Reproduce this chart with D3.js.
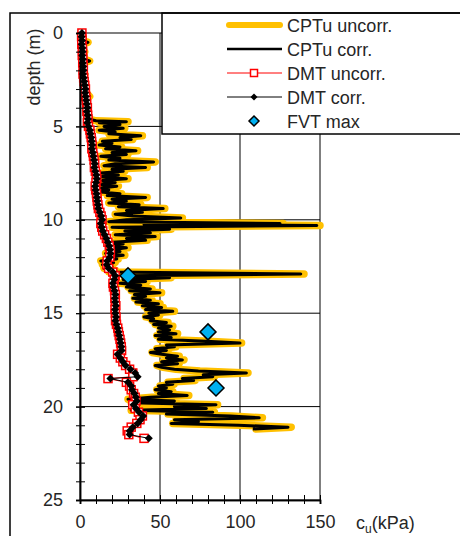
<!DOCTYPE html>
<html>
<head>
<meta charset="utf-8">
<script src="https://cdn.jsdelivr.net/npm/d3@7"></script>
<style>
  html, body { margin: 0; padding: 0; background: #fff; }
  svg { display: block; font-family: "Liberation Sans", Arial, sans-serif; }
</style>
</head>
<body>
<svg id="chart" width="460" height="536"></svg>
<script>
// Undrained shear strength profiles vs depth

// CPTu profile (depth in m, cu in kPa)
const cptuDepth = [0,0.2,0.4,0.5,0.6,0.8,1.0,1.2,1.4,1.5,1.6,1.8,2.0,2.2,2.4,2.6,2.8,3.0,3.2,3.4,3.5,3.7,3.9,4.1,4.3,4.5,4.6,
  4.7,4.75,4.8,4.9,5.0,5.1,5.2,5.3,5.4,5.5,5.6,5.7,5.8,5.9,6.0,6.1,6.2,6.3,6.4,6.5,6.6,6.7,6.8,6.9,7.0,7.1,7.2,7.3,7.4,7.5,7.6,7.7,7.8,7.9,
  8.0,8.1,8.2,8.3,8.4,8.5,8.6,8.7,8.8,8.9,9.0,9.1,9.2,9.3,9.4,9.5,9.6,9.7,9.8,9.9,10.0,10.1,10.2,10.25,10.3,10.4,10.5,10.6,10.7,10.8,10.9,
  11.0,11.1,11.2,11.3,11.4,11.5,11.6,11.7,11.8,11.9,12.0,12.1,12.2,12.3,12.4,12.5,12.6,12.7,12.8,12.9,13.0,13.1,13.2,13.3,13.4,13.5,13.6,13.7,13.8,13.9,
  14.0,14.1,14.2,14.3,14.4,14.5,14.6,14.7,14.8,14.9,15.0,15.1,15.2,15.3,15.4,15.5,15.6,15.7,15.8,15.9,16.0,16.1,16.2,16.3,16.4,16.5,16.6,16.7,16.8,16.9,
  17.0,17.1,17.2,17.3,17.4,17.5,17.6,17.7,17.8,17.9,18.0,18.1,18.2,18.3,18.4,18.5,18.6,18.7,18.8,18.9,19.0,19.1,19.2,19.3,19.4,19.5,19.6,19.7,19.8,19.9,
  20.0,20.1,20.2,20.3,20.4,20.5,20.6,20.7,20.8,20.9,21.0,21.1,21.2];
const cptuUncorr = [1,2,1.5,5,2,1.5,3,2,2.5,6,2,2.5,2,3,2.5,3,3.5,3,4,6,3.5,4,4.5,4,5,4.5,5,
  10,30,12,26,15,28,12,22,18,39,25,33,14,20,12,26,16,36,20,30,13,26,18,47,22,15,42,20,28,13,24,12,30,14,
  22,12,24,13,18,11,26,17,42,20,30,18,38,24,53,30,40,22,34,64,30,18,127,40,150,20,57,28,45,22,48,
  30,42,20,28,18,30,20,26,16,28,17,24,13,22,14,20,15,22,18,140,30,57,28,42,25,39,30,45,32,51,
  35,42,34,45,36,50,40,52,42,59,44,50,41,47,45,55,47,58,50,57,50,61,48,58,50,80,101,55,60,48,
  55,45,52,62,55,65,52,62,48,52,60,75,105,78,84,65,72,55,59,50,55,48,58,50,68,45,30,60,32,86,
  60,80,32,84,55,95,114,60,75,58,100,132,110];
const cptuCorr = [1,2,1.5,5,2,1.5,3,2,2.5,6,2,2.5,2,3,2.5,3,3.5,3,4,6,3.5,4,4.5,4,5,4.5,5,
  10,29,12,25,15,27,12,22,18,38,25,32,14,20,12,25,16,35,20,29,13,25,18,46,22,15,41,20,27,13,24,12,29,14,
  22,12,23,13,18,11,25,17,41,20,29,18,37,24,52,29,39,22,33,63,29,18,125,40,148,20,56,28,44,22,47,
  29,41,20,27,18,29,20,25,16,27,17,23,13,21,14,20,15,21,18,138,29,56,27,41,25,38,29,44,31,50,
  34,41,33,44,35,49,39,51,41,58,43,49,40,46,44,54,46,57,49,56,49,60,47,57,49,79,100,54,59,47,
  54,44,51,61,54,64,51,61,47,51,59,74,104,77,83,64,71,54,58,49,54,47,57,49,67,44,30,59,32,85,
  59,79,32,83,54,94,112,59,74,57,99,130,108];

// DMT profile (depth in m, cu in kPa)
const dmtDepth = [0.0,0.2,0.4,0.6,0.8,1.0,1.2,1.4,1.6,1.8,2.0,2.2,2.4,2.6,2.8,3.0,3.2,3.4,3.6,3.8,4.0,4.2,4.4,4.6,4.8,
  5.0,5.2,5.4,5.6,5.8,6.0,6.2,6.4,6.6,6.8,7.0,7.2,7.4,7.6,7.8,8.0,8.2,8.4,8.6,8.8,9.0,9.2,9.4,9.6,9.8,
  10.0,10.2,10.4,10.6,10.8,11.0,11.2,11.4,11.6,11.8,12.0,12.2,12.4,12.6,12.8,13.0,13.2,13.4,13.6,13.8,
  14.0,14.2,14.4,14.6,14.8,15.0,15.2,15.4,15.6,15.8,16.0,16.2,16.4,16.6,16.8,17.0,17.2,17.4,17.6,17.8,
  18.0,18.2,18.4,18.5,18.7,18.9,19.1,19.3,19.5,19.7,19.9,20.1,20.3,20.5,20.7,20.9,21.1,21.3,21.5,21.7];
const dmtUncorr = [1.2,1.0,1.3,1.1,1.5,1.6,1.4,1.8,1.7,2.0,2.1,1.9,2.3,2.6,3.0,3.4,3.2,3.6,3.9,4.2,4.6,4.3,4.8,5.0,4.6,
  5.3,6.2,6.5,7.0,7.3,7.6,7.4,8.0,8.4,8.8,9.2,9.0,9.6,10.2,10.5,10.0,9.5,9.8,10.3,10.6,10.8,11.2,11.5,12.4,13.2,
  13.8,13.0,13.6,14.2,15.4,16.5,17.4,18.3,18.8,19.0,18.6,17.0,16.8,17.9,20.5,22.0,21.4,20.6,20.9,21.6,
  22.1,21.8,22.0,22.4,21.9,22.1,22.5,22.2,22.8,23.6,24.0,24.5,25.0,25.4,25.8,26.0,23.5,25.2,26.8,28.5,
  31.0,33.0,33.0,17.5,29.0,31.0,32.0,33.5,34.5,35.0,33.0,34.5,36.5,39.0,37.5,35.5,32.0,29.5,30.5,40.0];
const dmtCorr = [1.2,1.0,1.3,1.1,1.5,1.6,1.4,1.8,1.7,2.0,2.1,1.9,2.3,2.6,3.0,3.4,3.2,3.6,3.9,4.2,4.6,4.3,4.8,5.0,4.6,
  5.3,6.2,6.5,7.0,7.3,7.6,7.4,8.0,8.4,8.8,9.2,9.0,9.6,10.2,10.5,10.0,9.5,9.8,10.3,10.6,10.8,11.2,11.5,12.4,13.2,
  13.8,13.0,13.6,14.2,15.4,16.5,17.4,18.3,18.8,19.0,18.6,17.0,16.8,17.9,20.5,22.0,21.4,20.6,20.9,21.6,
  22.1,21.8,22.0,22.4,21.9,22.1,22.5,22.2,22.8,23.6,24.0,24.5,25.0,25.4,25.8,26.0,23.5,25.2,26.8,28.5,
  31.5,34.5,36.0,19.0,30.0,32.0,32.5,34.0,35.0,35.5,33.5,35.0,37.0,39.5,38.0,36.0,33.0,31.0,31.0,43.0];

// Field vane tests, maximum values
const fvtDepth = [13.0, 16.0, 19.0];
const fvtMax = [30, 80, 85];

// Axis ticks
const xTickLabels = [0, 50, 100, 150];
const yTickLabels = [0, 5, 10, 15, 20, 25];

const legendItems = ["CPTu uncorr.", "CPTu corr.", "DMT uncorr.", "DMT corr.", "FVT max"];

const ORANGE = "#FFC000", RED = "#FF0000", BLUE = "#00B0F0", TEXT = "#262626";

const svg = d3.select("#chart");
svg.append("rect").attr("width", 460).attr("height", 536).attr("fill", "#fff");

const x = d3.scaleLinear().domain([0, 150]).range([80, 320]);
const y = d3.scaleLinear().domain([0, 25]).range([33, 500]);

// gridlines
const grid = svg.append("g").attr("stroke", "#000").attr("stroke-width", 1);
grid.selectAll("line.h").data([5, 10, 15, 20]).join("line")
  .attr("x1", x(0)).attr("x2", x(150)).attr("y1", d => y(d)).attr("y2", d => y(d));
grid.selectAll("line.v").data([50, 100]).join("line")
  .attr("x1", d => x(d)).attr("x2", d => x(d)).attr("y1", y(0)).attr("y2", y(25));
// plot area border
svg.append("rect").attr("x", x(0)).attr("y", y(0))
  .attr("width", x(150) - x(0)).attr("height", y(25) - y(0))
  .attr("fill", "none").attr("stroke", "#000").attr("stroke-width", 1);

const pts = (ds, vs) => ds.map((d, i) => [vs[i], d]);
const line = d3.line().x(p => x(p[0])).y(p => y(p[1]));

// CPTu
svg.append("path").datum(pts(cptuDepth, cptuUncorr)).attr("d", line)
  .attr("fill", "none").attr("stroke", ORANGE).attr("stroke-width", 7.5)
  .attr("stroke-linejoin", "round").attr("stroke-linecap", "round");
svg.append("path").datum(pts(cptuDepth, cptuCorr)).attr("d", line)
  .attr("fill", "none").attr("stroke", "#000").attr("stroke-width", 3)
  .attr("stroke-linejoin", "round");

// DMT uncorrected
const dmtU = pts(dmtDepth, dmtUncorr);
svg.append("path").datum(dmtU).attr("d", line)
  .attr("fill", "none").attr("stroke", RED).attr("stroke-width", 1);
svg.append("g").selectAll("rect").data(dmtU).join("rect")
  .attr("x", p => x(p[0]) - 4).attr("y", p => y(p[1]) - 4)
  .attr("width", 8).attr("height", 8)
  .attr("fill", "#fff").attr("stroke", RED).attr("stroke-width", 1.5);

// DMT corrected
const dmtC = pts(dmtDepth, dmtCorr);
svg.append("path").datum(dmtC).attr("d", line)
  .attr("fill", "none").attr("stroke", "#000").attr("stroke-width", 1);
const diamond = r => `M0,${-r}L${r},0L0,${r}L${-r},0Z`;
svg.append("g").selectAll("path").data(dmtC).join("path")
  .attr("transform", p => `translate(${x(p[0])},${y(p[1])})`)
  .attr("d", diamond(4)).attr("fill", "#000");

// FVT
svg.append("g").selectAll("path").data(fvtDepth.map((d, i) => [fvtMax[i], d])).join("path")
  .attr("transform", p => `translate(${x(p[0])},${y(p[1])})`)
  .attr("d", diamond(8)).attr("fill", BLUE).attr("stroke", "#000").attr("stroke-width", 1.5);

// axes
const yAxisMinor = d3.axisLeft(y).tickValues(d3.range(0, 26, 1)).tickFormat("").tickSize(4);
const gyMinor = svg.append("g").attr("transform", `translate(${x(0)},0)`).call(yAxisMinor);
gyMinor.selectAll(".tick line").attr("x2", -4).attr("x1", 5);
const gy = svg.append("g").attr("transform", `translate(${x(0)},0)`)
  .call(d3.axisLeft(y).tickValues(yTickLabels).tickFormat(d3.format("d")).tickSize(4).tickPadding(13));
gy.selectAll(".tick line").attr("x1", 5);

const xAxisMinor = d3.axisBottom(x).tickValues(d3.range(0, 151, 10)).tickFormat("").tickSize(4);
const gxMinor = svg.append("g").attr("transform", `translate(0,${y(25)})`).call(xAxisMinor);
gxMinor.selectAll(".tick line").attr("y1", -5);
const gx = svg.append("g").attr("transform", `translate(0,${y(25)})`)
  .call(d3.axisBottom(x).tickValues(xTickLabels).tickFormat(d3.format("d")).tickSize(4).tickPadding(11));
gx.selectAll(".tick line").attr("y1", -5);

[gyMinor, gy, gxMinor, gx].forEach(g => {
  g.select(".domain").attr("stroke", "#000").attr("stroke-width", 1.5);
  g.selectAll(".tick line").attr("stroke", "#000").attr("stroke-width", 1);
  g.selectAll("text").attr("font-size", 18).attr("fill", TEXT)
    .attr("font-family", "'Liberation Sans', Arial, sans-serif");
});

// axis titles
svg.append("text").attr("transform", `translate(40,67) rotate(-90)`)
  .attr("text-anchor", "middle").attr("font-size", 18).attr("fill", TEXT).text("depth (m)");
const xt = svg.append("text").attr("x", 356).attr("y", 529).attr("font-size", 18).attr("fill", TEXT);
xt.append("tspan").text("c");
xt.append("tspan").attr("font-size", 12).attr("dy", 4).text("u");
xt.append("tspan").attr("dy", -4).text("(kPa)");

// legend
const lg = svg.append("g");
lg.append("rect").attr("x", 162).attr("y", 13).attr("width", 310).attr("height", 121)
  .attr("fill", "#fff").attr("stroke", "#000").attr("stroke-width", 1.5);
const rowY = i => 25 + i * 24;
const lx1 = 227, lx2 = 282, lmid = 254;
lg.append("line").attr("x1", lx1 + 2).attr("x2", lx2 - 2).attr("y1", rowY(0)).attr("y2", rowY(0))
  .attr("stroke", ORANGE).attr("stroke-width", 6).attr("stroke-linecap", "round");
lg.append("line").attr("x1", lx1).attr("x2", lx2).attr("y1", rowY(1)).attr("y2", rowY(1))
  .attr("stroke", "#000").attr("stroke-width", 2.5);
lg.append("line").attr("x1", lx1).attr("x2", lx2).attr("y1", rowY(2)).attr("y2", rowY(2))
  .attr("stroke", RED).attr("stroke-width", 1);
lg.append("rect").attr("x", lmid - 3.5).attr("y", rowY(2) - 3.5).attr("width", 7).attr("height", 7)
  .attr("fill", "#fff").attr("stroke", RED).attr("stroke-width", 1.5);
lg.append("line").attr("x1", lx1).attr("x2", lx2).attr("y1", rowY(3)).attr("y2", rowY(3))
  .attr("stroke", "#000").attr("stroke-width", 1);
lg.append("path").attr("transform", `translate(${lmid},${rowY(3)})`).attr("d", diamond(3.5)).attr("fill", "#000");
lg.append("path").attr("transform", `translate(${lmid},${rowY(4)})`).attr("d", diamond(5))
  .attr("fill", BLUE).attr("stroke", "#000").attr("stroke-width", 1.5);
lg.selectAll("text").data(legendItems).join("text")
  .attr("x", 287).attr("y", (d, i) => rowY(i) + 6.5)
  .attr("font-size", 18).attr("fill", TEXT).text(d => d);

// chart frame
svg.append("rect").attr("x", 10).attr("y", 13).attr("width", 470).attr("height", 540)
  .attr("fill", "none").attr("stroke", "#000").attr("stroke-width", 1.5);
</script>
</body>
</html>
